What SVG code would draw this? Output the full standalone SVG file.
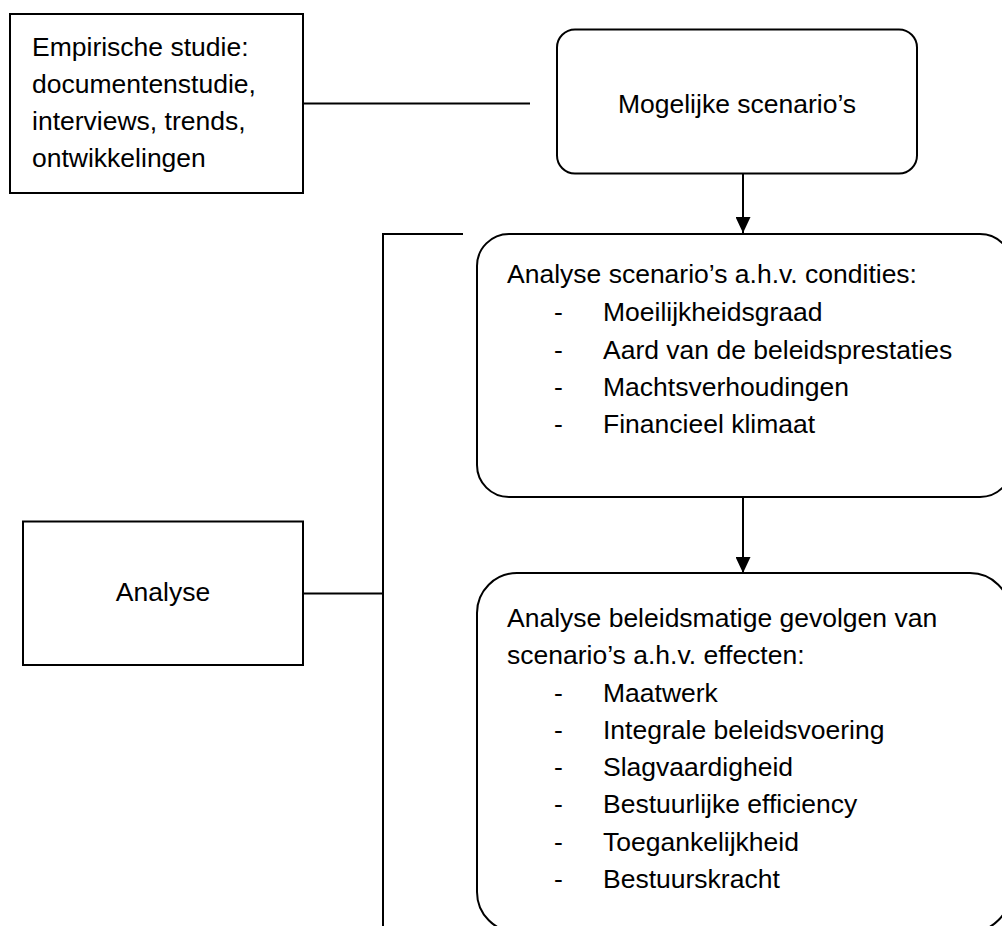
<svg xmlns="http://www.w3.org/2000/svg" width="1002" height="926" viewBox="0 0 1002 926">
  <style>
    .box { fill: #ffffff; stroke: #000000; stroke-width: 2; }
    .line { fill: none; stroke: #000000; stroke-width: 2; }
    text { font-family: "Liberation Sans", Arial, Helvetica, sans-serif; font-size: 26.5px; fill: #000000; }
  </style>
  <defs>
    <marker id="arrow" markerWidth="16" markerHeight="15" refX="16" refY="7.5" orient="auto" markerUnits="userSpaceOnUse">
      <path d="M0,0 L16,7.5 L0,15 Z" fill="#000000"/>
    </marker>
  </defs>
  <rect width="1002" height="926" fill="#ffffff"/>

  <!-- connectors -->
  <g id="connectors">
    <line class="line" x1="303" y1="103.5" x2="530" y2="103.5"/>
    <line class="line" x1="743" y1="173" x2="743" y2="233" marker-end="url(#arrow)"/>
    <line class="line" x1="743" y1="497" x2="743" y2="573" marker-end="url(#arrow)"/>
    <!-- bracket joining the analysis steps -->
    <polyline class="line" points="463,234 383,234 383,930"/>
    <line class="line" x1="303" y1="593.5" x2="383" y2="593.5"/>
  </g>

  <g id="empirische-studie">
    <rect class="box" x="10" y="14" width="293" height="179"/>
    <text x="32" y="56">Empirische studie:</text>
    <text x="32" y="93">documentenstudie,</text>
    <text x="32" y="130">interviews, trends,</text>
    <text x="32" y="167">ontwikkelingen</text>
  </g>

  <g id="mogelijke-scenarios">
    <rect class="box" x="557" y="29.5" width="360" height="144" rx="18"/>
    <text x="737" y="113" text-anchor="middle">Mogelijke scenario’s</text>
  </g>

  <g id="analyse-condities">
    <rect class="box" x="477" y="234" width="535" height="263" rx="32"/>
    <text x="507" y="283">Analyse scenario’s a.h.v. condities:</text>
    <text x="554" y="321">-</text><text x="603" y="321">Moeilijkheidsgraad</text>
    <text x="554" y="358.5">-</text><text x="603" y="358.5">Aard van de beleidsprestaties</text>
    <text x="554" y="396">-</text><text x="603" y="396">Machtsverhoudingen</text>
    <text x="554" y="433">-</text><text x="603" y="433">Financieel klimaat</text>
  </g>

  <g id="analyse-effecten">
    <rect class="box" x="477" y="573" width="533" height="359" rx="40"/>
    <text x="507" y="627">Analyse beleidsmatige gevolgen van</text>
    <text x="507" y="664">scenario’s a.h.v. effecten:</text>
    <text x="554" y="701.5">-</text><text x="603" y="701.5">Maatwerk</text>
    <text x="554" y="739">-</text><text x="603" y="739">Integrale beleidsvoering</text>
    <text x="554" y="776">-</text><text x="603" y="776">Slagvaardigheid</text>
    <text x="554" y="813">-</text><text x="603" y="813">Bestuurlijke efficiency</text>
    <text x="554" y="850.5">-</text><text x="603" y="850.5">Toegankelijkheid</text>
    <text x="554" y="888">-</text><text x="603" y="888">Bestuurskracht</text>
  </g>

  <g id="analyse">
    <rect class="box" x="23" y="521.5" width="280" height="143.5"/>
    <text x="163" y="601" text-anchor="middle">Analyse</text>
  </g>
</svg>
